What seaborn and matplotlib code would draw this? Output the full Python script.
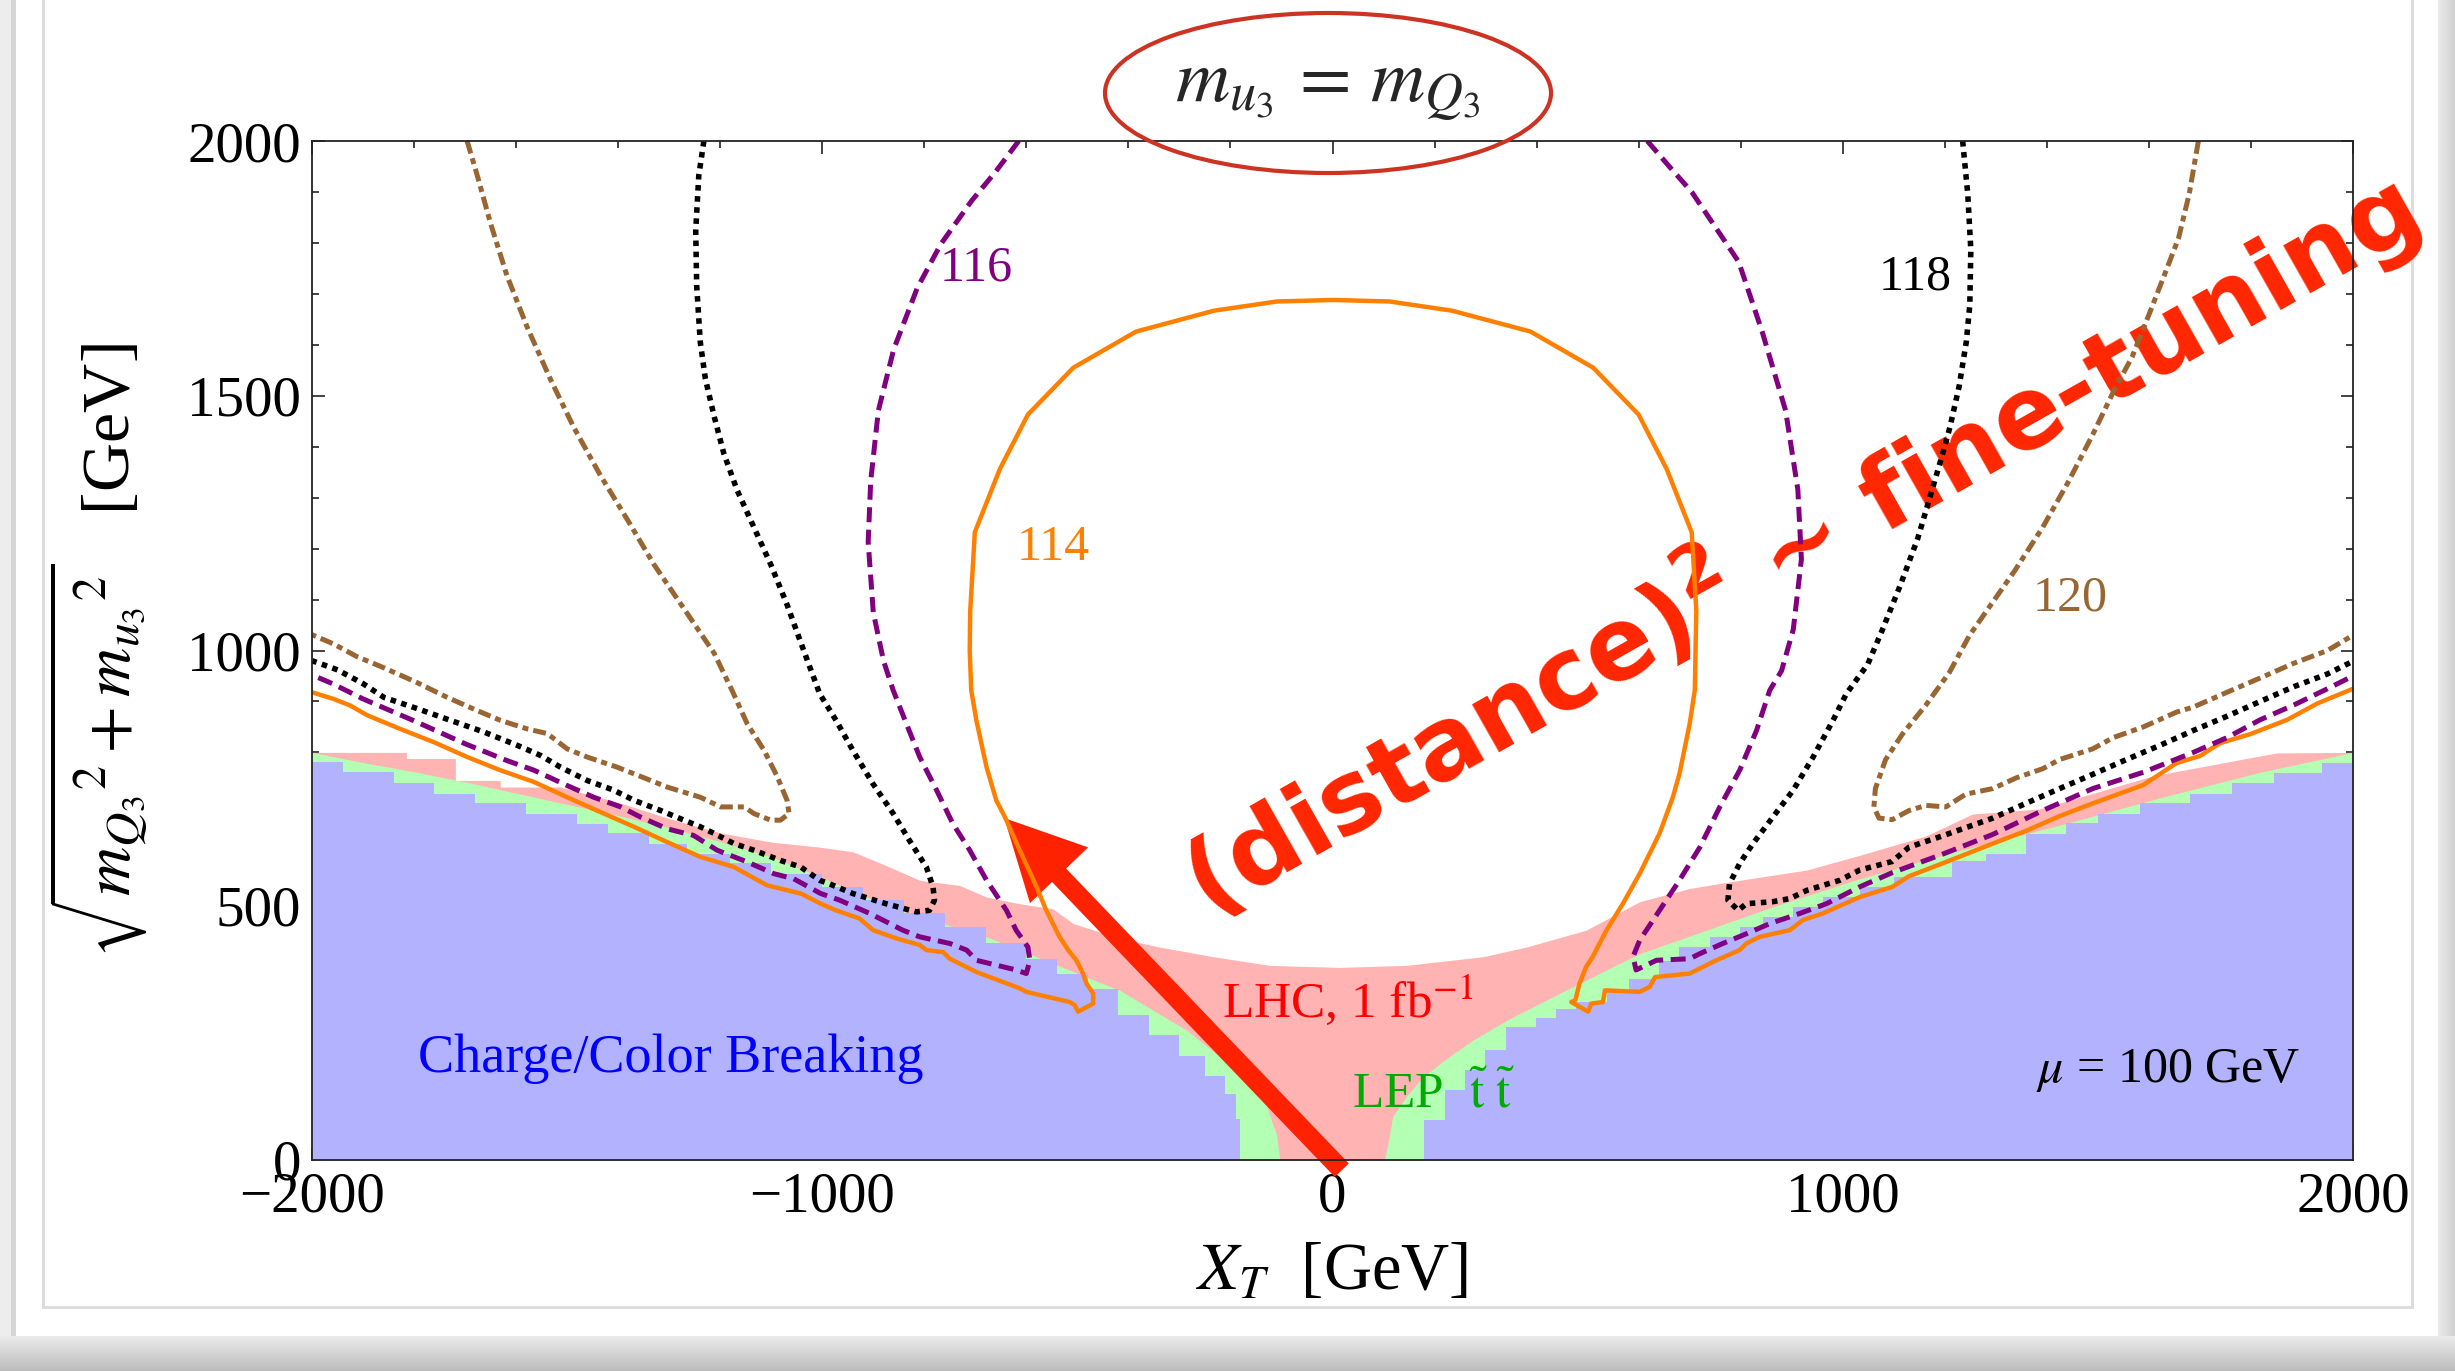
import numpy as np
import matplotlib
matplotlib.use("Agg")
import matplotlib.pyplot as plt
import seaborn as sns
from matplotlib.patches import Ellipse, FancyArrowPatch
from matplotlib.ticker import MultipleLocator

# ---------------- data ----------------
# shaded regions: upper boundary of each region (GeV)
blue_x = [-2000, -1940, -1840, -1760, -1680, -1580, -1480, -1420, -1340, -1265, -1180, -1100,
          -1000, -920, -840, -760, -680, -600, -540, -480, -420, -360, -300, -250, -210, -190,
          -182, 180, 220, 259, 298, 341, 399, 439, 478, 537, 582, 640, 680, 739, 798, 844, 903,
          961, 1033, 1100, 1215, 1281, 1359, 1438, 1500, 1582, 1681, 1763, 1845, 1940, 2000]
blue_y = [781, 761, 740, 719, 701, 680, 660, 641, 620, 601, 582, 562,
          535, 510, 485, 458, 425, 395, 365, 335, 285, 245, 205, 165, 130, 80,
          0, 78, 137, 176, 216, 261, 278, 297, 310, 333, 356, 390, 418, 438, 458, 477, 497,
          516, 536, 555, 586, 600, 639, 661, 679, 700, 718, 739, 759, 780, 780]

green_x = [-2000, -1900, -1800, -1700, -1600, -1500, -1400, -1300, -1200, -1100, -1005, -875,
           -809, -744, -678, -613, -548, -482, -417, -352, -286, -221, -162, -129, -110, -103,
           102, 110, 118, 144, 177, 229, 275, 341, 406, 471, 537, 602, 733, 863, 1033, 1228,
           1425, 1622, 1818, 2000]
green_y = [800, 780, 762, 742, 720, 698, 676, 652, 625, 595, 556, 500,
           477, 458, 438, 412, 386, 359, 333, 294, 255, 203, 150, 105, 50, 0,
           0, 40, 85, 124, 163, 203, 235, 274, 307, 340, 373, 405, 451, 497, 552, 607,
           657, 711, 761, 800]

pink_x = [-2000, -1815, -1815, -1719, -1719, -1631, -1631, -1513, -1400, -1300, -1200, -1100,
          -1005, -940, -875, -809, -731, -678, -613, -548, -508, -417, -339, -234, -123, 14,
          144, 295, 380, 497, 602, 700, 798, 929, 1033, 1163, 1254, 1386, 1608, 1818, 1851, 2000]
pink_y = [800, 800, 788, 788, 745, 745, 732, 732, 702, 670, 642, 624,
          614, 605, 578, 549, 539, 516, 503, 493, 464, 435, 418, 399, 382, 378,
          382, 399, 418, 451, 507, 533, 549, 569, 598, 636, 679, 689, 754, 793, 799, 800]

# m_h = 114 GeV contour (solid orange)
h114_x = [-2000, -1958, -1925, -1892, -1827, -1761, -1696, -1631, -1565, -1500, -1435, -1369,
          -1304, -1239, -1173, -1108, -1042, -1003, -973, -927, -900, -855, -809, -796, -763,
          -750, -698, -613, -600, -515, -505, -499, -469, -469, -482, -489, -502, -518, -535,
          -548, -561, -580, -613, -642, -659, -678, -698, -708, -711, -710, -701, -652, -597,
          -508, -385, -232, -109, 0, 112, 234, 388, 511, 600, 655, 704, 713, 710, 700, 680, 667,
          641, 602, 569, 537, 510, 497, 484, 476, 468, 501, 507, 530, 534, 602, 622, 632, 700,
          752, 798, 811, 837, 896, 922, 961, 1033, 1097, 1130, 1195, 1294, 1359, 1425, 1490,
          1589, 1654, 1700, 1739, 1799, 1871, 1930, 2000]
h114_y = [918, 905, 892, 873, 846, 820, 791, 765, 742, 712, 683, 654,
          624, 595, 575, 539, 523, 503, 490, 474, 451, 435, 422, 412, 408,
          395, 369, 337, 330, 310, 304, 291, 307, 327, 346, 366, 392, 412, 438,
          464, 490, 536, 608, 673, 706, 771, 863, 922, 1000, 1078, 1232, 1356, 1463,
          1555, 1626, 1667, 1685, 1688, 1685, 1667, 1626, 1555, 1463, 1356, 1232, 1078, 922, 856, 758, 712,
          641, 562, 503, 451, 399, 379, 346, 314, 310, 291, 307, 310, 333, 330, 340, 359, 366,
          392, 412, 425, 438, 451, 471, 484, 516, 536, 557, 582, 621, 646, 675, 700,
          736, 779, 793, 818, 836, 864, 896, 925]

# m_h = 116 GeV contour (purple dashed), left and right pieces
h116a_x = [-615, -660, -707, -768, -814, -860, -890, -905, -910, -900, -880, -861, -835, -809,
           -776, -744, -711, -678, -639, -620, -597, -593, -600, -620, -698, -717, -750, -809,
           -842, -907, -966, -1003, -1056, -1095, -1147, -1206, -1252, -1304, -1356, -1395,
           -1448, -1500, -1565, -1618, -1700, -1800, -1900, -1960, -2000]
h116a_y = [2000, 1940, 1883, 1797, 1711, 1591, 1471, 1333, 1213, 1075, 980, 922, 856, 791,
           726, 660, 608, 549, 490, 451, 418, 392, 366, 373, 392, 412, 425, 438,
           451, 484, 510, 523, 552, 562, 585, 608, 637, 650, 673, 693,
           712, 735, 765, 784, 817, 862, 905, 935, 952]
h116b_x = [617, 660, 704, 796, 842, 888, 912, 919, 903, 880, 857, 831, 798, 759, 720, 680, 641,
           602, 589, 595, 635, 700, 720, 765, 811, 857, 916, 968, 1033, 1097, 1195, 1294, 1392,
           1490, 1589, 1687, 1753, 1818, 1884, 1950, 2000]
h116b_y = [2000, 1950, 1900, 1763, 1626, 1471, 1316, 1179, 1041, 960, 922, 843, 765, 693, 614,
           549, 490, 431, 399, 373, 392, 395, 405, 425, 444, 464, 484, 503, 536, 564, 600, 639,
           686, 729, 761, 800, 829, 864, 893, 925, 950]

# m_h = 118 GeV contour (black dotted)
h118a_x = [-1232, -1242, -1248, -1246, -1239, -1229, -1212, -1193, -1167, -1134, -1101, -1069,
           -1040, -1005, -973, -940, -901, -861, -829, -796, -783, -780, -790, -816, -875, -940,
           -986, -1005, -1042, -1082, -1134, -1173, -1212, -1239, -1271, -1317, -1369, -1409,
           -1461, -1513, -1552, -1598, -1663, -1729, -1794, -1859, -1900, -1950, -2000]
h118a_y = [2000, 1932, 1823, 1714, 1605, 1533, 1460, 1387, 1315, 1242, 1169, 1090,
           1010, 915, 863, 804, 739, 680, 627, 575, 536, 510, 490, 487, 503, 523,
           542, 549, 575, 588, 608, 621, 641, 654, 667, 686, 706, 726,
           745, 771, 794, 814, 840, 863, 886, 908, 935, 962, 980]
h118b_x = [1235, 1245, 1251, 1249, 1242, 1228, 1210, 1196, 1175, 1147, 1112, 1077, 1049, 1007,
           981, 942, 903, 863, 824, 798, 778, 775, 795, 811, 863, 896, 929, 961, 994, 1033,
           1097, 1130, 1195, 1294, 1359, 1425, 1490, 1556, 1622, 1687, 1753, 1818, 1884, 1950,
           2000]
h118b_y = [2000, 1896, 1787, 1678, 1605, 1518, 1438, 1387, 1315, 1220, 1126, 1039, 973, 915,
           863, 791, 726, 673, 621, 582, 542, 510, 490, 503, 507, 513, 529, 539, 549, 569,
           586, 614, 636, 671, 700, 729, 757, 786, 814, 843, 871, 900, 929, 954,
           979]

# m_h = 120 GeV contour (brown dash-dot)
h120a_x = [-1696, -1676, -1650, -1618, -1578, -1533, -1487, -1435, -1382, -1330, -1271, -1212,
           -1176, -1147, -1114, -1088, -1069, -1065, -1082, -1101, -1134, -1153, -1199, -1239,
           -1304, -1369, -1402, -1461, -1500, -1539, -1578, -1631, -1676, -1735, -1794, -1859,
           -1912, -1958, -2000]
h120a_y = [2000, 1932, 1838, 1736, 1634, 1533, 1438, 1344, 1257, 1169, 1082, 995,
           920, 856, 804, 752, 706, 680, 667, 667, 680, 693, 693, 712,
           732, 758, 771, 791, 807, 837, 846, 863, 882, 908, 937, 966,
           988, 1013, 1031]
h120b_x = [1697, 1679, 1658, 1630, 1602, 1567, 1532, 1490, 1441, 1392, 1336, 1280, 1248, 1209,
           1163, 1117, 1084, 1064, 1061, 1071, 1097, 1130, 1163, 1202, 1241, 1294, 1340, 1392,
           1425, 1490, 1530, 1589, 1654, 1687, 1753, 1818, 1884, 1950, 2000]
h120b_y = [2000, 1896, 1809, 1736, 1664, 1576, 1511, 1424, 1329, 1242, 1155, 1075, 1029, 957,
           893, 836, 786, 729, 693, 671, 668, 686, 696, 693, 718, 729, 750, 768,
           786, 807, 829, 850, 879, 889, 918, 946, 975, 1000, 1030]

x_major_ticks = [-2000, -1000, 0, 1000, 2000]
y_major_ticks = [0, 500, 1000, 1500, 2000]

# ---------------- styling ----------------
sns.set_theme(style="ticks")
plt.rcParams['font.family'] = ['Liberation Serif', 'DejaVu Serif']
plt.rcParams['mathtext.fontset'] = 'stix'
plt.rcParams['axes.unicode_minus'] = True

W, H = 2455, 1371
fig = plt.figure(figsize=(W / 100, H / 100), dpi=100)
fig.patch.set_facecolor('white')

# card frame / shadow (decoration)
bg = fig.add_axes([0, 0, 1, 1], zorder=-10)
img = np.ones((H, W, 3))
img[:, 0:11] = 0.93
img[:, 11:16] = 0.84
img[:, 2438:] = np.linspace(0.92, 0.82, W - 2438)[None, :, None]
img[1336:, :] = np.linspace(0.92, 0.74, H - 1336)[:, None, None]
img[:1309, 42:45] = 0.87
img[:1309, 2411:2414] = 0.87
img[1306:1309, 42:2414] = 0.87
bg.imshow(img, aspect='auto', extent=[0, W, H, 0], interpolation='nearest')
bg.set_axis_off()

ax = fig.add_axes([312 / W, (H - 1160) / H, (2353 - 312) / W, (1160 - 141) / H])
ax.set_facecolor('white')

BLUE = '#B2B2FF'
GREEN = '#B3FFB3'
PINK = '#FFB3B3'
ax.fill_between(pink_x, pink_y, 0, color=PINK, lw=0, zorder=1)
ax.fill_between(green_x, green_y, 0, color=GREEN, lw=0, zorder=1.1)
ax.fill_between(blue_x, blue_y, 0, step='post', color=BLUE, lw=0, zorder=1.2)

# annotation text / arrow (below the contour lines)
RED = '#FF2600'
ax.text(913, 1208, r'(distance)$^{\mathbf{2}}$ ~ fine-tuning', rotation=29.5, rotation_mode='anchor',
        ha='center', va='center', fontsize=72, fontweight='bold', color=RED,
        family=['DejaVu Sans'], math_fontfamily='dejavusans', zorder=2)
arrow = FancyArrowPatch((22, -24), (-647, 675),
                        arrowstyle='simple,head_length=57,head_width=58,tail_width=14',
                        mutation_scale=1, color='#FF2200', lw=0, zorder=2.1, clip_on=False)
ax.add_patch(arrow)

# contour lines
sns.lineplot(x=h114_x, y=h114_y, sort=False, estimator=None, color='#FF8000', lw=3.2, ax=ax, zorder=3)
for xs, ys in [(h116a_x, h116a_y), (h116b_x, h116b_y)]:
    sns.lineplot(x=xs, y=ys, sort=False, estimator=None, color='#800080', lw=3.6,
                 linestyle=(0, (3.0, 1.5)), ax=ax, zorder=3)
for xs, ys in [(h118a_x, h118a_y), (h118b_x, h118b_y)]:
    sns.lineplot(x=xs, y=ys, sort=False, estimator=None, color='black', lw=4.0,
                 linestyle=(0, (1, 1)), ax=ax, zorder=3)
for xs, ys in [(h120a_x, h120a_y), (h120b_x, h120b_y)]:
    sns.lineplot(x=xs, y=ys, sort=False, estimator=None, color='#996633', lw=3.6,
                 linestyle=(0, (2.6, 1.0, 1.2, 1.0)), ax=ax, zorder=3)

# contour labels and region labels
ax.text(-698, 1750, '116', color='#800080', fontsize=36, ha='center', va='center', zorder=4)
ax.text(1142, 1733, '118', color='black', fontsize=36, ha='center', va='center', zorder=4)
ax.text(-547, 1202, '114', color='#FF8000', fontsize=36, ha='center', va='center', zorder=4)
ax.text(1445, 1102, '120', color='#996633', fontsize=36, ha='center', va='center', zorder=4)
ax.text(-216, 281, r'LHC, 1 fb$^{-1}$', color='#FF0000', fontsize=37, ha='left', va='baseline', zorder=4)
ax.text(38, 104, r'LEP  $\tilde{\mathrm{t}}\ \tilde{\mathrm{t}}$', color='#00AA00', fontsize=37,
        ha='left', va='baseline', zorder=4)
ax.text(-1792, 173, 'Charge/Color Breaking', color='#0000FF', fontsize=39, ha='left', va='baseline', zorder=4)
ax.text(1897, 153, r'$\mu$ = 100 GeV', color='black', fontsize=36, ha='right', va='baseline', zorder=4)

# axes
ax.set_xlim(-2000, 2000)
ax.set_ylim(0, 2000)
ax.set_xticks(x_major_ticks)
ax.set_yticks(y_major_ticks)
ax.xaxis.set_minor_locator(MultipleLocator(200))
ax.yaxis.set_minor_locator(MultipleLocator(100))
ax.tick_params(which='both', direction='in', top=True, right=True, labeltop=False, labelright=False,
               width=1.2, color='#222222')
ax.tick_params(which='major', length=9, labelsize=41, pad=8, labelcolor='black')
ax.tick_params(which='minor', length=5)
for s in ax.spines.values():
    s.set_linewidth(1.3)
    s.set_color('#222222')
    s.set_zorder(5)

ax.set_xlabel(r'$X_T$  [GeV]', fontsize=48, color='black')
ax.xaxis.set_label_coords(0.5, -0.08)
ax.set_ylabel(r'$\sqrt{{m_{Q_3}}^{2} + {m_{u_3}}^{2}}$   [GeV]', fontsize=49, color='black')
ax.yaxis.set_label_coords(-0.08, 0.5)

# top annotation
fig.add_artist(Ellipse((1328 / W, 1 - 93 / H), 446 / W, 160 / H, transform=fig.transFigure,
                       fill=False, ec='#CC3322', lw=3))
fig.text(1328 / W, 1 - 90 / H, r'$m_{u_3}\,=\,m_{Q_3}$', ha='center', va='center', fontsize=54)

fig.savefig('out.png', dpi=100)
